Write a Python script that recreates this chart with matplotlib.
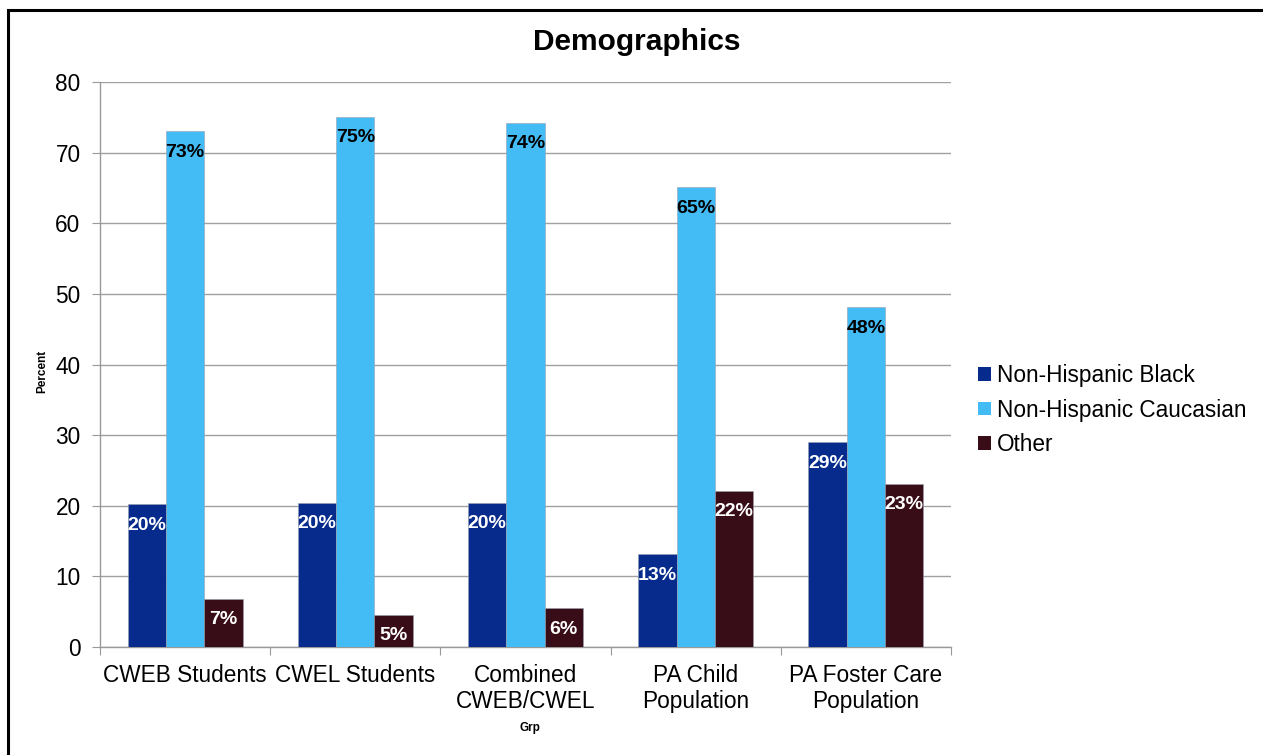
import matplotlib
matplotlib.use("Agg")
import matplotlib.pyplot as plt
import numpy as np
from matplotlib.patches import Rectangle, Patch

categories = ["CWEB Students", "CWEL Students", "Combined\nCWEB/CWEL", "PA Child\nPopulation", "PA Foster Care\nPopulation"]
series_names = ["Non-Hispanic Black", "Non-Hispanic Caucasian", "Other"]
black = [20.2, 20.4, 20.4, 13.1, 29.0]
caucasian = [73.0, 75.1, 74.2, 65.1, 48.1]
other = [6.8, 4.6, 5.5, 22.1, 23.1]
labels_black = ["20%", "20%", "20%", "13%", "29%"]
labels_cauc = ["73%", "75%", "74%", "65%", "48%"]
labels_other = ["7%", "5%", "6%", "22%", "23%"]

colors = ["#062B8C", "#43BCF6", "#380D17"]
label_colors = ["white", "black", "white"]

plt.rcParams['font.family'] = ['Liberation Sans', 'DejaVu Sans']

fig = plt.figure(figsize=(12.63, 7.55), dpi=100)
ax = fig.add_axes([100/1263, 1-647/755, (951-100)/1263, (647-82)/755])

x = np.arange(len(categories))
w = 0.225
all_vals = [black, caucasian, other]
all_labels = [labels_black, labels_cauc, labels_other]
for i, (vals, labs) in enumerate(zip(all_vals, all_labels)):
    pos = x + (i - 1) * w
    ax.bar(pos, vals, width=w, color=colors[i], edgecolor='#9aa0b0', linewidth=0.4, zorder=3)
    for p, v, t in zip(pos, vals, labs):
        ax.annotate(t, (p, v), xytext=(0, -9), textcoords='offset points',
                    ha='center', va='top', fontsize=14, fontweight='bold',
                    color=label_colors[i], zorder=4)

ax.set_xlim(-0.5, len(categories) - 0.5)
ax.set_ylim(0, 80)
ax.set_yticks(range(0, 81, 10))
ax.set_xticks(np.arange(-0.5, len(categories), 1.0), minor=False)
ax.set_xticklabels([])
ax.set_xticks(x, minor=True)
ax.set_xticklabels(categories, minor=True, fontsize=16.3, linespacing=1.12)
ax.tick_params(axis='x', which='minor', length=0, pad=12.5)
ax.tick_params(axis='x', which='major', length=6, color='#999999')
ax.tick_params(axis='y', length=6, color='#999999', labelsize=16.3, pad=8)
ax.grid(axis='y', color='#a0a0a0', linewidth=1, zorder=0)
for s in ['top', 'right']:
    ax.spines[s].set_visible(False)
for s in ['left', 'bottom']:
    ax.spines[s].set_color('#999999')
    ax.spines[s].set_linewidth(1)

fig.text(42/1263, 1-371/755, "Percent", fontsize=8.5, fontweight='bold', ha='center', va='center', rotation=90)
fig.text(530/1263, 1-728/755, "Grp", fontsize=8.5, fontweight='bold', ha='center', va='center')
fig.text(637/1263, 1-42/755, "Demographics", fontsize=21.5, fontweight='bold', ha='center', va='center')

handles = [Patch(facecolor=c, label=n) for c, n in zip(colors, series_names)]
fig.legend(handles=handles, loc='center left', bbox_to_anchor=(960/1263, 1-410/755),
           frameon=False, fontsize=16.3, handlelength=0.55, handleheight=0.55,
           handletextpad=0.3, labelspacing=0.5, borderpad=0.3)

fig.patches.append(Rectangle((8/1263, -0.1), 1.2, 1-10/755 + 0.1, transform=fig.transFigure,
                             fill=False, edgecolor='black', linewidth=2.2))

fig.savefig("out.png", dpi=100)
